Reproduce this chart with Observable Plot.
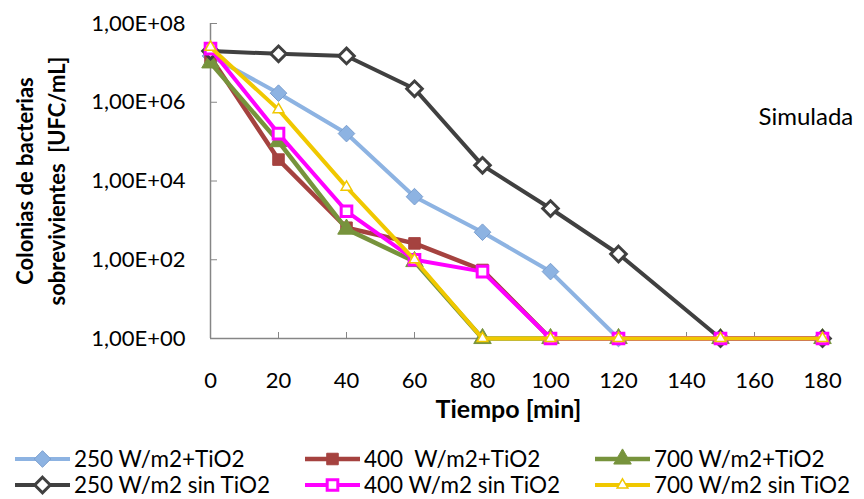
<!DOCTYPE html>
<html>
<head>
<meta charset="utf-8">
<script src="https://cdn.jsdelivr.net/npm/d3@7"></script>
<script src="https://cdn.jsdelivr.net/npm/@observablehq/plot@0.6"></script>
<style>
  html, body { margin: 0; padding: 0; background: #fff; }
  body { width: 864px; height: 499px; overflow: hidden; font-family: Lato, "Open Sans", sans-serif; }
  #legend { position: relative; width: 864px; height: 59px; }
  .item { position: absolute; display: flex; align-items: center; font-size: 22.5px; line-height: 24px; color: #000; white-space: pre; }
  .item svg { margin-right: 3px; }
</style>
</head>
<body>
<div id="chart"></div>
<div id="legend"></div>
<script>
// ---- data ----
const tiempo = [0, 20, 40, 60, 80, 100, 120, 150, 180];
const seriesNames = [
  "250 W/m2+TiO2",
  "400  W/m2+TiO2",
  "700 W/m2+TiO2",
  "250 W/m2 sin TiO2",
  "400 W/m2 sin TiO2",
  "700 W/m2 sin TiO2"
];
const v250TiO2    = [1.5e7, 1.7e6, 1.6e5, 4.0e3, 5.0e2, 5.0e1, 1, 1, 1];
const v400TiO2    = [1.4e7, 3.5e4, 6.5e2, 2.6e2, 5.5e1, 1, 1, 1, 1];
const v700TiO2    = [1.0e7, 1.0e5, 6.0e2, 9.0e1, 1, 1, 1, 1, 1];
const v250sinTiO2 = [2.0e7, 1.7e7, 1.5e7, 2.2e6, 2.5e4, 2.0e3, 1.4e2, 1, 1];
const v400sinTiO2 = [2.3e7, 1.6e5, 1.7e3, 1.0e2, 5.0e1, 1, 1, 1, 1];
const v700sinTiO2 = [2.5e7, 6.5e5, 7.0e3, 1.0e2, 1, 1, 1, 1, 1];
const xTicks = [0, 20, 40, 60, 80, 100, 120, 140, 160, 180];
const yTicks = [1, 1e2, 1e4, 1e6, 1e8];

// ---- styles (one per series, same order) ----
const styles = [
  {line: "#8db3e2", width: 4, symbol: "diamond2", r: 7.5, fill: "#8db3e2", stroke: "#7b9fcf", sw: 1},
  {line: "#a5423f", width: 4.5, symbol: "square", r: 6.5, fill: "#a5423f", stroke: "#a5423f", sw: 1},
  {line: "#77933c", width: 4.5, symbol: "triangle", r: 6.5, fill: "#77933c", stroke: "#77933c", sw: 1},
  {line: "#404040", width: 4, symbol: "diamond2", r: 7, fill: "#fff", stroke: "#404040", sw: 3},
  {line: "#ff00ff", width: 4, symbol: "square", r: 6, fill: "#fff", stroke: "#ff00ff", sw: 3},
  {line: "#f0c800", width: 4, symbol: "triangle", r: 4, fill: "#fff", stroke: "#f0c800", sw: 1.5}
];

const valueArrays = [v250TiO2, v400TiO2, v700TiO2, v250sinTiO2, v400sinTiO2, v700sinTiO2];
const rows = valueArrays.map((vals, i) => tiempo.map((t, j) => ({serie: seriesNames[i], t, v: vals[j]})));

const fmtY = d => `1,00E+${String(Math.round(Math.log10(d))).padStart(2, "0")}`;
const axisGray = "#868686";

const seriesMarks = rows.flatMap((data, i) => {
  const s = styles[i];
  return [
    Plot.line(data, {x: "t", y: "v", stroke: s.line, strokeWidth: s.width, strokeLinejoin: "round"}),
    Plot.dot(data, {x: "t", y: "v", symbol: () => s.symbol, r: s.r, fill: s.fill, stroke: s.stroke, strokeWidth: s.sw})
  ];
});

const chart = Plot.plot({
  width: 864,
  height: 440,
  marginLeft: 210,
  marginRight: 42,
  marginTop: 23,
  marginBottom: 102,
  style: {fontFamily: "Lato, 'Open Sans', sans-serif", fontSize: "22px", color: "#000", background: "#fff"},
  x: {domain: [0, 180], label: null},
  y: {type: "log", domain: [1, 1e8], label: null},
  symbol: {type: "identity"},
  marks: [
    Plot.ruleY([1], {stroke: axisGray, strokeWidth: 1.5}),
    Plot.ruleX([0], {stroke: axisGray, strokeWidth: 1.5}),
    Plot.axisX(xTicks, {tickSize: -6, tickFormat: () => "", stroke: axisGray}),
    Plot.axisX(xTicks, {tickSize: 0, tickPadding: 34, fill: "#000", fontSize: 22}),
    Plot.axisY(yTicks, {tickSize: -7, tickFormat: () => "", stroke: axisGray}),
    Plot.axisY(yTicks, {tickSize: 0, tickPadding: 25, tickFormat: fmtY, fill: "#000", fontSize: 22}),
    Plot.text(["Tiempo [min]"], {frameAnchor: "bottom", dx: -8, dy: 79, fontWeight: "bold", fontSize: 25, fill: "#000"}),
    Plot.text(["Colonias de bacterias\nsobrevivientes  [UFC/mL]"], {frameAnchor: "left", dx: -172, rotate: -90, textAnchor: "middle", lineAnchor: "middle", lineHeight: 1.45, fontWeight: "bold", fontSize: 22, fill: "#000"}),
    Plot.text(["Simulada"], {frameAnchor: "top-right", dx: -64, dy: 84, textAnchor: "start", fontSize: 24, fill: "#000"}),
    ...seriesMarks
  ]
});
document.getElementById("chart").appendChild(chart);

// ---- legend ----
const legend = d3.select("#legend");
const colX = [15, 305, 595];
const rowY = [19, 45];
const symMap = {diamond2: d3.symbolDiamond2, square: d3.symbolSquare, triangle: d3.symbolTriangle};
seriesNames.forEach((name, i) => {
  const s = styles[i];
  const col = i % 3, row = Math.floor(i / 3);
  const item = legend.append("div").attr("class", "item")
    .style("left", colX[col] + "px").style("top", (rowY[row] - 12) + "px").style("height", "24px");
  const svg = item.append("svg").attr("width", 56).attr("height", 24);
  svg.append("line").attr("x1", 0).attr("x2", 55).attr("y1", 12).attr("y2", 12)
    .attr("stroke", s.line).attr("stroke-width", s.width);
  svg.append("path").attr("transform", "translate(27.5,12)")
    .attr("d", d3.symbol(symMap[s.symbol], Math.PI * s.r * s.r)())
    .attr("fill", s.fill).attr("stroke", s.stroke).attr("stroke-width", s.sw);
  item.append("span").text(name);
});
</script>
</body>
</html>
